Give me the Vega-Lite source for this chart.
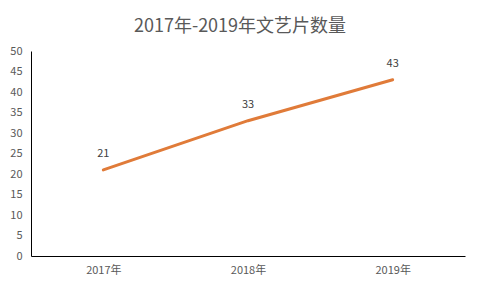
{
  "$schema": "https://vega.github.io/schema/vega-lite/v6.json",
  "autosize": "none",
  "width": 434,
  "height": 205,
  "padding": {"left": 31, "top": 51, "right": 15, "bottom": 33},
  "background": "white",
  "title": {
    "text": "2017年-2019年文艺片数量",
    "font": "Noto Sans CJK SC",
    "fontSize": 18,
    "fontWeight": "normal",
    "color": "#595959",
    "anchor": "middle",
    "dx": -8,
    "offset": 9
  },
  "config": {
    "view": {"stroke": null},
    "font": "Noto Sans CJK SC"
  },
  "data": {
    "values": [
      {"year": "2017年", "count": 21},
      {"year": "2018年", "count": 33},
      {"year": "2019年", "count": 43}
    ]
  },
  "encoding": {
    "x": {
      "field": "year",
      "type": "ordinal",
      "scale": {"padding": 0.5},
      "axis": {
        "title": null,
        "labelAngle": 0,
        "ticks": false,
        "labelPadding": 8,
        "labelFontSize": 11,
        "labelColor": "#595959",
        "domainColor": "#000000",
        "domainWidth": 1,
        "grid": false
      }
    },
    "y": {
      "field": "count",
      "type": "quantitative",
      "scale": {"domain": [0, 50]},
      "axis": {
        "title": null,
        "values": [0, 5, 10, 15, 20, 25, 30, 35, 40, 45, 50],
        "ticks": false,
        "labelPadding": 9,
        "labelFontSize": 11,
        "labelColor": "#595959",
        "domainColor": "#000000",
        "domainWidth": 1,
        "grid": false
      }
    }
  },
  "layer": [
    {
      "mark": {"type": "line", "color": "#E07B39", "strokeWidth": 3, "strokeCap": "round"}
    },
    {
      "mark": {"type": "text", "dy": -13, "baseline": "alphabetic", "fontSize": 11, "color": "#404040"},
      "encoding": {"text": {"field": "count", "type": "quantitative"}}
    }
  ]
}
